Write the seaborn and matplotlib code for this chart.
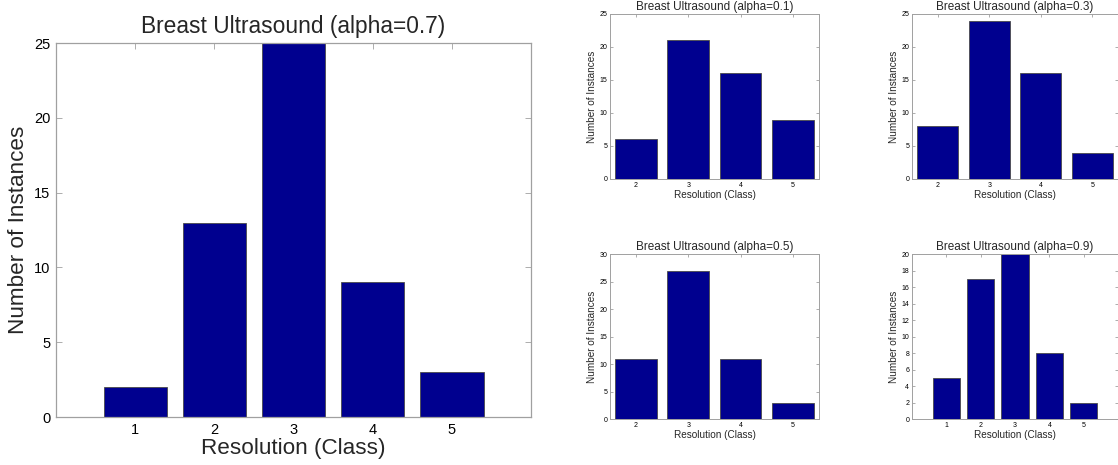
import matplotlib
matplotlib.use("Agg")
import matplotlib.pyplot as plt
import seaborn as sns
import numpy as np

# Class distributions of the breast ultrasound data for different alpha values
classes_main = [1, 2, 3, 4, 5]
counts_a07 = [2, 13, 25, 9, 3]

classes_2to5 = [2, 3, 4, 5]
counts_a01 = [6, 21, 16, 9]
counts_a03 = [8, 24, 16, 4]
counts_a05 = [11, 27, 11, 3]

classes_a09 = [1, 2, 3, 4, 5]
counts_a09 = [5, 17, 20, 8, 2]

sns.set_style("white")
plt.rcParams["font.family"] = ["Liberation Sans", "DejaVu Sans"]

BAR = "#00008F"
SPINE = "#a0a0a0"

fig = plt.figure(figsize=(11.18, 4.65), dpi=100)


def panel(rect, x, y, title, xlim, ylim, yticks, big=False):
    ax = fig.add_axes(rect)
    sns.barplot(x=x, y=y, native_scale=True, width=0.8, color=BAR,
                edgecolor="#4a4a4a", linewidth=0.6, saturation=1,
                errorbar=None, ax=ax)
    ax.set_xlim(*xlim)
    ax.set_ylim(*ylim)
    ax.set_xticks(x)
    ax.set_xticklabels([str(v) for v in x])
    ax.set_yticks(yticks)
    for s in ax.spines.values():
        s.set_visible(True)
        s.set_color(SPINE)
        s.set_linewidth(0.9 if big else 0.7)
    if big:
        tsize, lsize, ksize, tl = 16.4, 16.2, 10.5, 4
    else:
        tsize, lsize, ksize, tl = 8.5, 7.2, 5, 2.5
    ax.tick_params(axis="both", which="both", direction="in", length=tl,
                   width=0.6, color=SPINE, top=True, right=True,
                   bottom=True, left=True, labelsize=ksize,
                   labelcolor="black", pad=2 if not big else 4)
    ax.set_title(title, fontsize=tsize, pad=3 if not big else 7)
    ax.set_xlabel("Resolution (Class)", fontsize=lsize, labelpad=1 if not big else 1)
    ax.set_ylabel("Number of Instances", fontsize=lsize, labelpad=2 if not big else 4)
    return ax


panel([0.0501, 0.1032, 0.4249, 0.8043], classes_main, counts_a07,
      "Breast Ultrasound (alpha=0.7)", (0, 6), (0, 25), range(0, 26, 5), big=True)

panel([0.5456, 0.6151, 0.1869, 0.3548], classes_2to5, counts_a01,
      "Breast Ultrasound (alpha=0.1)", (1.5, 5.5), (0, 25), range(0, 26, 5))
panel([0.8157, 0.6151, 0.1843, 0.3548], classes_2to5, counts_a03,
      "Breast Ultrasound (alpha=0.3)", (1.5, 5.5), (0, 25), range(0, 26, 5))
panel([0.5456, 0.0989, 0.1869, 0.3548], classes_2to5, counts_a05,
      "Breast Ultrasound (alpha=0.5)", (1.5, 5.5), (0, 30), range(0, 31, 5))
panel([0.8157, 0.0989, 0.1843, 0.3548], classes_a09, counts_a09,
      "Breast Ultrasound (alpha=0.9)", (0, 6), (0, 20), range(0, 21, 2))

fig.savefig("out.png", dpi=100, facecolor="white")
